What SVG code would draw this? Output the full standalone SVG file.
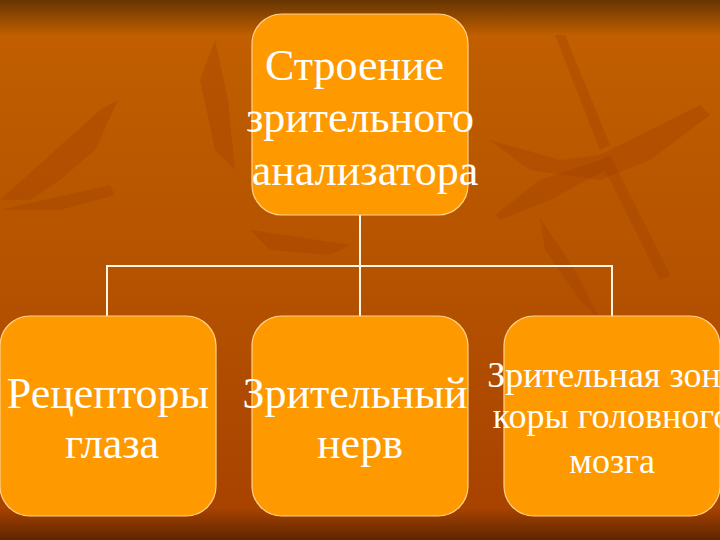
<svg xmlns="http://www.w3.org/2000/svg" width="720" height="540" viewBox="0 0 720 540">
<defs>
<linearGradient id="bg" x1="0" y1="0" x2="0" y2="1">
<stop offset="0" stop-color="#663502"/>
<stop offset="0.065" stop-color="#C05E00"/>
<stop offset="0.5" stop-color="#B55300"/>
<stop offset="0.94" stop-color="#A84300"/>
<stop offset="1" stop-color="#5E2500"/>
</linearGradient>
<style>
.box{fill:#FF9900;stroke:#FFD38A;stroke-width:1.2}
.t{font-family:"Liberation Serif","Times New Roman",serif;fill:#FFFFFF;text-anchor:middle}
.big{font-size:44px}
.small{font-size:36px}
.conn{stroke:#FFF6E6;stroke-width:2;fill:none}
.leaf{fill:#9E3C00;opacity:0.3}
</style>
</defs>
<rect width="720" height="540" fill="url(#bg)"/>
<g id="background-leaves">
<path class="leaf" d="M0 200 L100 110 L118 100 L95 150 L60 180 L30 200 Z"/>
<path class="leaf" d="M0 210 L110 185 L115 195 L60 210 Z"/>
<path class="leaf" d="M215 40 L228 100 L235 170 L215 150 L200 80 Z"/>
<path class="leaf" d="M490 140 L560 160 L600 155 L640 135 L700 105 L710 115 L650 160 L600 180 L530 170 Z"/>
<path class="leaf" d="M495 215 L540 180 L600 160 L605 170 L550 200 L500 220 Z"/>
<path class="leaf" d="M555 35 L600 150 L610 145 L565 35 Z"/>
<path class="leaf" d="M600 160 L660 280 L670 275 L610 155 Z"/>
<path class="leaf" d="M540 218 L575 270 L600 320 L580 300 L545 250 Z"/>
<path class="leaf" d="M250 230 L350 245 L330 255 L270 250 Z"/>
</g>
<g id="connectors">
<path class="conn" d="M360 215 V266"/>
<path class="conn" d="M107 316 V266 H612 V316"/>
<path class="conn" d="M360 266 V316"/>
</g>
<g id="node-root">
<rect class="box" x="252" y="14" width="216" height="201" rx="30"/>
<text class="t big" x="360" y="80" xml:space="preserve">Строение </text>
<text class="t big" x="360" y="132">зрительного</text>
<text class="t big" x="365" y="185">анализатора</text>
</g>
<g id="node-receptors">
<rect class="box" x="0" y="316" width="216" height="200" rx="30"/>
<text class="t big" x="108" y="408">Рецепторы</text>
<text class="t big" x="112" y="458">глаза</text>
</g>
<g id="node-nerve">
<rect class="box" x="252" y="316" width="216" height="200" rx="30"/>
<text class="t big" x="355" y="408">Зрительный</text>
<text class="t big" x="360" y="458">нерв</text>
</g>
<g id="node-cortex">
<rect class="box" x="504" y="316" width="216" height="200" rx="30"/>
<text class="t small" x="612" y="387">Зрительная зона</text>
<text class="t small" x="612" y="428">коры головного</text>
<text class="t small" x="612" y="473">мозга</text>
</g>
</svg>
